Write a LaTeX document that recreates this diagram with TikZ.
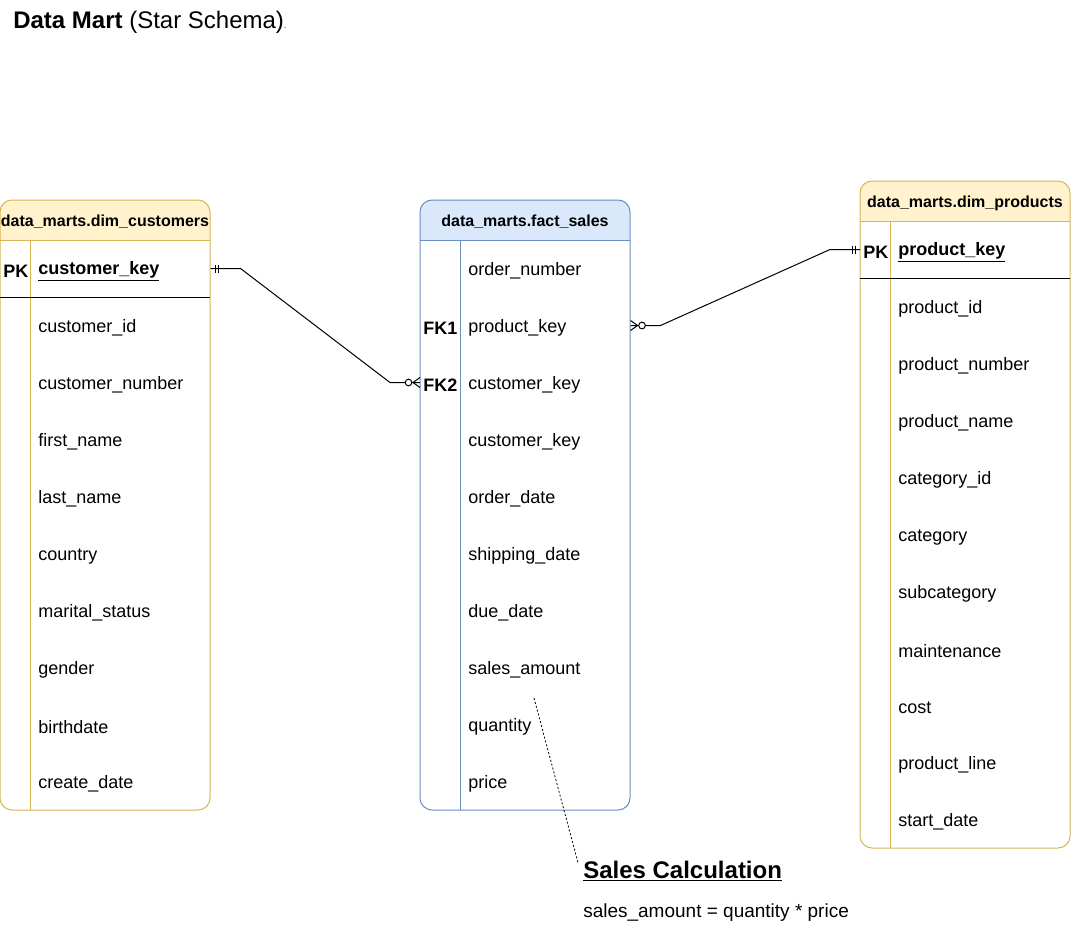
\documentclass[tikz,border=0pt]{standalone}
\usepackage{fontspec}
\setmainfont{Liberation Sans}
\usetikzlibrary{calc}

\definecolor{ystroke}{HTML}{D6B656}
\definecolor{yfill}{HTML}{FFF2CC}
\definecolor{bstroke}{HTML}{6C8EBF}
\definecolor{bfill}{HTML}{DAE8FC}

% table frame: x0, y0, x1, y1, header bottom, key-column divider, stroke, header fill
\newcommand{\erframe}[8]{%
  \begin{scope}
    \clip[rounded corners=9pt] (#1,#2) rectangle (#3,#4);
    \fill[white] (#1,#2) rectangle (#3,#4);
    \fill[#8] (#1,#2) rectangle (#3,#5);
  \end{scope}
  \draw[#7, line width=0.75pt] (#1,#5) -- (#3,#5);
  \draw[#7, line width=0.75pt] (#6,#5) -- (#6,#4);
  \draw[#7, line width=0.75pt, rounded corners=9pt] (#1,#2) rectangle (#3,#4);
}

\tikzset{
  hdr/.style={font=\bfseries\fontsize{12}{14}\selectfont, inner sep=0, yshift=-1.5pt},
  rowcell/.style={anchor=west, inner xsep=6pt, inner ysep=0, text width=123pt,
    minimum height=42.75pt, align=left, font=\fontsize{13.5}{16}\selectfont},
  factrow/.style={rowcell, text width=115.5pt},
  keycell/.style={anchor=west, inner xsep=2.25pt, inner ysep=0, text width=#1,
    minimum height=42.75pt, align=left, font=\bfseries\fontsize{13.5}{16}\selectfont},
  conn/.style={draw=black, line width=0.75pt},
  endmark/.style={draw=black, line width=0.75pt},
  txtdown/.style={yshift=-2pt},
}

\begin{document}
\begin{tikzpicture}[x=0.75pt, y=-0.75pt]
\useasboundingbox (0,0) rectangle (1071,931);

% title
\node[anchor=west, inner sep=0, font=\fontsize{18}{21}\selectfont] (title) at (13,22)
  {\textbf{Data Mart} (Star Schema){\fontsize{6}{7}\selectfont .}};

% ---------- dim_customers ----------
\erframe{0}{200}{210}{810}{240}{30}{ystroke}{yfill}
\draw[black, line width=0.75pt] (0,297) -- (210,297);
\node[hdr] (custhead) at (105,220) {data\_marts.dim\_customers};
\node[keycell=18pt, txtdown] (cpkkey) at (0,268.5) {PK};
\node[rowcell, txtdown] (cpktext) at (30,268.5) {\textbf{\underline{customer\_key}}};
\node[rowcell] (cpk) at (30,268.5) {};
\foreach \t [count=\i] in {customer\_id, customer\_number, first\_name, last\_name,
    country, marital\_status, gender, birthdate, create\_date}
  \node[rowcell, txtdown] (c\i) at (30,{268.5+57*\i}) {\t};

% ---------- fact_sales ----------
\erframe{420}{200}{630}{810}{240}{460}{bstroke}{bfill}
\node[hdr] (facthead) at (525,220) {data\_marts.fact\_sales};
\node[keycell=25.5pt, txtdown] (fk1) at (420,325.5) {FK1};
\node[keycell=25.5pt, txtdown] (fk2text) at (420,382.5) {FK2};
\node[keycell=25.5pt] (fk2) at (420,382.5) {};
\foreach \t [count=\i] in {order\_number, product\_key, customer\_key, customer\_key,
    order\_date, shipping\_date, due\_date, sales\_amount, quantity, price}
  \node[factrow, txtdown] (f\i) at (460,{211.5+57*\i}) {\t};
\node[factrow] (fpk) at (460,325.5) {};

% ---------- dim_products ----------
\erframe{860}{181}{1070}{848}{221}{890}{ystroke}{yfill}
\draw[black, line width=0.75pt] (860,278) -- (1070,278);
\node[hdr] (prodhead) at (965,201) {data\_marts.dim\_products};
\node[keycell=18pt, txtdown] (ppktext) at (860,249.5) {PK};
\node[keycell=18pt] (ppk) at (860,249.5) {};
\node[rowcell, txtdown] (ppkrow) at (890,249.5) {\textbf{\underline{product\_key}}};
\foreach \t [count=\i] in {product\_id, product\_number, product\_name, category\_id,
    category, subcategory, maintenance, cost, product\_line, start\_date}
  \node[rowcell, txtdown] (p\i) at (890,{249.5+57*\i}) {\t};

% ---------- relationships ----------
% customers.customer_key (one) -> fact_sales.customer_key (zero or many)
\draw[conn] (cpk.east) -- ++(30,0) -- ($(fk2.west)+(-30,0)$) -- (fk2.west);
\draw[endmark] ($(cpk.east)+(5,-4)$) -- ++(0,8);
\draw[endmark] ($(cpk.east)+(8,-4)$) -- ++(0,8);
\draw[endmark] ($(fk2.west)+(0,-5)$) -- ($(fk2.west)+(-7,0)$) -- ($(fk2.west)+(0,5)$);
\draw[endmark, fill=white] ($(fk2.west)+(-11.5,0)$) circle[radius=2.5pt];

% fact_sales.product_key (zero or many) -> products.product_key (one)
\draw[conn] (fpk.east) -- ++(30,0) -- ($(ppk.west)+(-30,0)$) -- (ppk.west);
\draw[endmark] ($(fpk.east)+(0,-5)$) -- ($(fpk.east)+(7,0)$) -- ($(fpk.east)+(0,5)$);
\draw[endmark, fill=white] ($(fpk.east)+(11.5,0)$) circle[radius=2.5pt];
\draw[endmark] ($(ppk.west)+(-5,-4)$) -- ++(0,8);
\draw[endmark] ($(ppk.west)+(-8,-4)$) -- ++(0,8);

% ---------- note ----------
\node[anchor=west, inner sep=0, font=\bfseries\fontsize{18}{21}\selectfont] (calc) at (583,871)
  {\underline{Sales Calculation}};
\node[anchor=west, inner sep=0, font=\fontsize{14.25}{17}\selectfont] (formula) at (583,913)
  {sales\_amount = quantity * price};
\coordinate (calcsrc) at (534,698);
\draw[black, line width=0.6pt, dash pattern=on 1.5pt off 1.5pt] (calcsrc) -- ($(calc.north west)+(-5,2)$);
\end{tikzpicture}
\end{document}
